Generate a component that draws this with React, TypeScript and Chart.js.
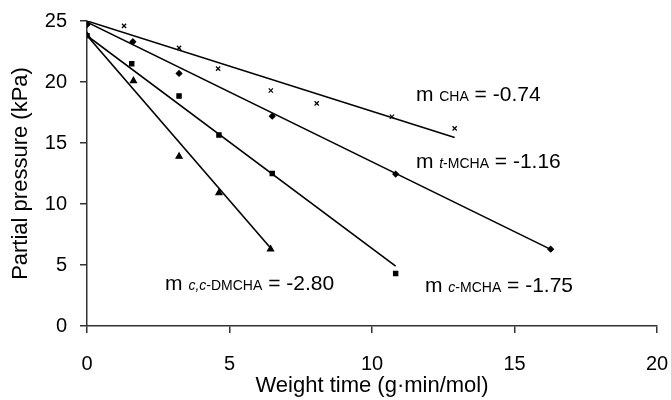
import React, { useEffect, useRef } from "react";
import { Chart, registerables } from "chart.js";

Chart.register(...registerables);

// ---- data ----
const chaX = [0, 1.3, 3.23, 4.6, 6.45, 8.06, 10.7, 12.9];
const chaY = [24.9, 24.6, 22.8, 21.1, 19.3, 18.25, 17.15, 16.2];
const chaFitX = [0, 12.9];
const chaFitY = [25.0, 15.45];

const tmchaX = [0, 1.61, 3.23, 6.5, 10.83, 16.27];
const tmchaY = [24.7, 23.3, 20.7, 17.2, 12.45, 6.3];
const tmchaFitX = [0, 16.27];
const tmchaFitY = [24.9, 6.28];

const cmchaX = [0, 1.57, 3.23, 4.63, 6.5, 10.83];
const cmchaY = [23.8, 21.5, 18.85, 15.65, 12.5, 4.3];
const cmchaFitX = [0, 10.83];
const cmchaFitY = [23.8, 4.9];

const ccX = [0, 1.63, 3.23, 4.63, 6.44];
const ccY = [23.8, 20.1, 13.9, 10.9, 6.3];
const ccFitX = [0, 6.44];
const ccFitY = [23.8, 6.4];

const xTicksStep = 5;
const yTicksStep = 5;
const xTitle = "Weight time (g·min/mol)";
const yTitle = "Partial pressure (kPa)";

// annotation labels: "m <sub> = <slope>"
const labelSubs = [
  [{ t: "CHA", i: false }],
  [{ t: "t", i: true }, { t: "-MCHA", i: false }],
  [{ t: "c,c", i: true }, { t: "-DMCHA", i: false }],
  [{ t: "c", i: true }, { t: "-MCHA", i: false }],
];
const labelSlopes = ["-0.74", "-1.16", "-2.80", "-1.75"];
const labelAtX = [11.54, 11.54, 2.74, 11.86];
const labelAtY = [18.44, 12.95, 2.95, 2.81];

const FONT = "'Liberation Sans', Arial, sans-serif";

const zip = (xs: number[], ys: number[]) => xs.map((x, i) => ({ x, y: ys[i] }));

const annotPlugin = {
  id: "slopeLabels",
  afterDatasetsDraw(chart: any) {
    const ctx = chart.ctx;
    const xs = chart.scales.x;
    const ys = chart.scales.y;
    ctx.save();
    ctx.fillStyle = "#000";
    ctx.textBaseline = "alphabetic";
    ctx.textAlign = "left";
    labelSubs.forEach((subs, k) => {
      let px = xs.getPixelForValue(labelAtX[k]);
      const py = ys.getPixelForValue(labelAtY[k]);
      ctx.font = `21px ${FONT}`;
      ctx.fillText("m ", px, py);
      px += ctx.measureText("m ").width;
      subs.forEach((s) => {
        ctx.font = `${s.i ? "italic " : ""}14px ${FONT}`;
        ctx.fillText(s.t, px, py);
        px += ctx.measureText(s.t).width;
      });
      ctx.font = `21px ${FONT}`;
      const rest = " = " + labelSlopes[k];
      ctx.fillText(rest, px, py);
    });
    ctx.restore();
  },
};

export default function App() {
  const ref = useRef<HTMLCanvasElement | null>(null);
  useEffect(() => {
    if (!ref.current) return;
    const pointDs = (data: any[], style: string, r: number) => ({
      data,
      showLine: false,
      pointStyle: style,
      pointRadius: r,
      pointBackgroundColor: "#000",
      pointBorderColor: "#000",
      pointBorderWidth: 1.2,
    });
    const lineDs = (data: any[]) => ({
      data,
      showLine: true,
      pointRadius: 0,
      borderColor: "#000",
      borderWidth: 1.6,
    });
    const axisCommon = {
      grid: {
        display: true,
        drawOnChartArea: false,
        drawTicks: true,
        tickLength: 7,
        color: "#333",
        lineWidth: 1.5,
      },
      border: { display: true, color: "#333", width: 1.5 },
    };
    const chart = new Chart(ref.current, {
      type: "scatter",
      data: {
        datasets: [
          lineDs(zip(chaFitX, chaFitY)),
          lineDs(zip(tmchaFitX, tmchaFitY)),
          lineDs(zip(cmchaFitX, cmchaFitY)),
          lineDs(zip(ccFitX, ccFitY)),
          pointDs(zip(chaX, chaY), "crossRot", 3),
          pointDs(zip(tmchaX, tmchaY), "rectRot", 2.8),
          pointDs(zip(cmchaX, cmchaY), "rect", 3),
          pointDs(zip(ccX, ccY), "triangle", 3.5),
        ] as any,
      },
      options: {
        animation: false,
        responsive: false,
        layout: { padding: { left: 0, right: 14, top: 21, bottom: 0 } },
        plugins: { legend: { display: false }, tooltip: { enabled: false } },
        scales: {
          x: {
            type: "linear",
            min: 0,
            max: 20,
            ...axisCommon,
            ticks: {
              stepSize: xTicksStep,
              color: "#000",
              font: { family: FONT, size: 20 },
              padding: 19,
            },
            title: {
              display: true,
              text: xTitle,
              color: "#000",
              font: { family: FONT, size: 22 },
              padding: 1,
            },
            afterFit: (s: any) => {
              s.height = 74;
              s.paddingLeft = 0;
              s.paddingRight = 0;
            },
          },
          y: {
            type: "linear",
            min: 0,
            max: 25,
            ...axisCommon,
            ticks: {
              stepSize: yTicksStep,
              color: "#000",
              font: { family: FONT, size: 20 },
              padding: 13,
            },
            title: {
              display: true,
              text: yTitle,
              color: "#000",
              font: { family: FONT, size: 22 },
              padding: 8,
            },
            afterFit: (s: any) => {
              s.width = 87;
              s.paddingTop = 0;
              s.paddingBottom = 0;
            },
          },
        } as any,
      },
      plugins: [annotPlugin],
    });
    return () => chart.destroy();
  }, []);
  return (
    <div style={{ position: "absolute", left: 0, top: 0, width: 671, height: 400, background: "#fff" }}>
      <canvas ref={ref} width={671} height={400} />
    </div>
  );
}
